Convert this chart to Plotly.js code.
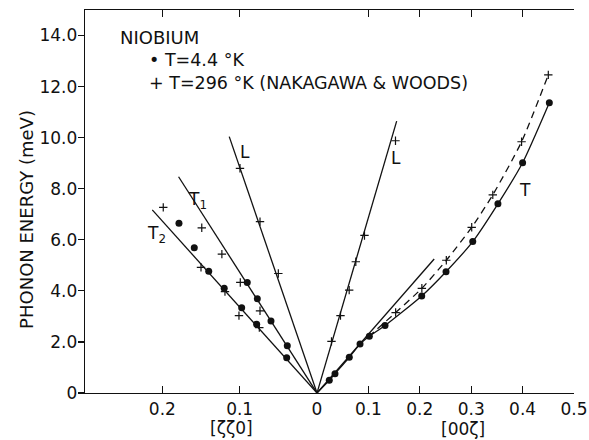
<!DOCTYPE html>
<html>
<head>
<meta charset="utf-8">
<script src="https://cdn.plot.ly/plotly-3.0.1.min.js"></script>
<style>html,body{margin:0;padding:0;background:#fff;}#chart{width:589px;height:440px;}</style>
</head>
<body>
<div id="chart"></div>
<script>
// ---------- DATA ----------
// Left panel: [ζζ0] direction (ζ plotted to the left of 0)
const leftLowT_zeta = [0.1785, 0.1587, 0.140, 0.120, 0.0902, 0.0974, 0.0772, 0.0595, 0.078, 0.0384, 0.0392];
const leftLowT_E    = [6.65, 5.69, 4.77, 4.10, 4.33, 3.34, 3.69, 2.82, 2.69, 1.85, 1.38];
const leftRoomT_zeta = [0.1988, 0.149, 0.123, 0.150, 0.119, 0.0992, 0.0737, 0.1009, 0.0746, 0.0996, 0.0737, 0.050];
const leftRoomT_E    = [7.27, 6.47, 5.44, 4.92, 3.97, 4.33, 3.22, 3.03, 2.56, 8.80, 6.71, 4.68];
const leftL_zeta  = [0, 0.1135];
const leftL_E     = [0, 10.04];
const leftT1_zeta = [0, 0.179];
const leftT1_E    = [0, 8.47];
const leftT2_zeta = [0, 0.213];
const leftT2_E    = [0, 7.17];

// Right panel: [00ζ] direction
const rightLowT_zeta = [0.0239, 0.035, 0.0628, 0.0837, 0.1018, 0.1323, 0.2037, 0.251, 0.303, 0.352, 0.400, 0.452];
const rightLowT_E    = [0.497, 0.756, 1.40, 1.92, 2.22, 2.64, 3.80, 4.75, 5.93, 7.41, 9.02, 11.37];
const rightRoomT_zeta = [0.153, 0.204, 0.2516, 0.301, 0.342, 0.398, 0.450];
const rightRoomT_E    = [3.15, 4.10, 5.20, 6.49, 7.76, 9.84, 12.46];
const rightRoomL_zeta = [0.0282, 0.0457, 0.0626, 0.0755, 0.0924, 0.1527];
const rightRoomL_E    = [2.02, 3.03, 4.03, 5.14, 6.17, 9.88];
const rightL_zeta = [0, 0.155];
const rightL_E    = [0, 10.65];
const rightTangent_zeta = [0, 0.228];
const rightTangent_E    = [0, 5.25];
const rightTLow_curve_zeta = [0, 0.0239, 0.035, 0.0628, 0.0837, 0.1018, 0.1323, 0.2037, 0.251, 0.303, 0.352, 0.400, 0.452];
const rightTLow_curve_E    = [0, 0.497, 0.756, 1.40, 1.92, 2.22, 2.64, 3.80, 4.75, 5.93, 7.41, 9.02, 11.37];
const rightTRoom_curve_zeta = [0.100, 0.153, 0.204, 0.2516, 0.301, 0.342, 0.398, 0.450];
const rightTRoom_curve_E    = [2.20, 3.15, 4.10, 5.20, 6.49, 7.76, 9.84, 12.46];

const yTickVals = [0, 2, 4, 6, 8, 10, 12, 14];
const yTickText = ['0', '2.0', '4.0', '6.0', '8.0', '10.0', '12.0', '14.0'];
const leftTickVals = [0.1, 0.2];
const leftTickText = ['0.1', '0.2'];
const rightTickVals = [0, 0.1, 0.2, 0.3, 0.4, 0.5];
const rightTickText = ['0', '0.1', '0.2', '0.3', '0.4', '0.5'];

// ---------- STYLE ----------
const FONT = 'DejaVu Sans, sans-serif';
const INK = '#111';
const lineStyle = {color: INK, width: 1.3};
const dot = {symbol: 'circle', size: 7, color: INK};
const plus = {symbol: 'cross-thin', size: 6, color: INK, line: {color: INK, width: 1.2}};

function lineTrace(x, y, xa, extra) {
  return Object.assign({x: x, y: y, xaxis: xa, yaxis: 'y', mode: 'lines', line: Object.assign({}, lineStyle), hoverinfo: 'skip', showlegend: false}, extra || {});
}
function markTrace(x, y, xa, marker) {
  return {x: x, y: y, xaxis: xa, yaxis: 'y', mode: 'markers', marker: marker, hoverinfo: 'skip', showlegend: false};
}

const traces = [
  lineTrace(leftL_zeta, leftL_E, 'x'),
  lineTrace(leftT1_zeta, leftT1_E, 'x'),
  lineTrace(leftT2_zeta, leftT2_E, 'x'),
  markTrace(leftLowT_zeta, leftLowT_E, 'x', dot),
  markTrace(leftRoomT_zeta, leftRoomT_E, 'x', plus),

  lineTrace(rightL_zeta, rightL_E, 'x2'),
  lineTrace(rightTangent_zeta, rightTangent_E, 'x2'),
  lineTrace(rightTLow_curve_zeta, rightTLow_curve_E, 'x2', {line: {color: INK, width: 1.3, shape: 'spline', smoothing: 0.6}}),
  lineTrace(rightTRoom_curve_zeta, rightTRoom_curve_E, 'x2', {line: {color: INK, width: 1.3, shape: 'spline', smoothing: 0.6, dash: '7px,5px'}}),
  markTrace(rightLowT_zeta, rightLowT_E, 'x2', dot),
  markTrace(rightRoomT_zeta, rightRoomT_E, 'x2', plus),
  markTrace(rightRoomL_zeta, rightRoomL_E, 'x2', plus)
];

const fL = 232 / 489;
const tickFont = {family: FONT, size: 17, color: INK};
const baseX = {showgrid: false, zeroline: false, showline: true, linecolor: INK, linewidth: 1.3,
  ticks: 'inside', ticklen: 7, tickwidth: 1.2, tickcolor: INK, mirror: 'ticks', tickfont: tickFont, fixedrange: true, anchor: 'y'};
const baseY = {range: [0, 15], showgrid: false, zeroline: false, showline: true, linecolor: INK, linewidth: 1.3,
  tickwidth: 1.2, tickcolor: INK, tickvals: yTickVals, fixedrange: true};

function ann(text, xref, yref, x, y, extra) {
  return Object.assign({text: text, xref: xref, yref: yref, x: x, y: y, xanchor: 'center', yanchor: 'middle',
    showarrow: false, font: {family: FONT, size: 17, color: INK}}, extra || {});
}

const layout = {
  width: 589, height: 440,
  margin: {l: 85, r: 15, t: 10, b: 47},
  paper_bgcolor: '#fff', plot_bgcolor: '#fff',
  showlegend: false,
  font: {family: FONT, color: INK},
  xaxis: Object.assign({}, baseX, {domain: [0, fL], range: [0.3, 0], tickmode: 'array', tickvals: leftTickVals, ticktext: leftTickText}),
  xaxis2: Object.assign({}, baseX, {domain: [fL, 1], range: [0, 0.5], tickmode: 'array', tickvals: rightTickVals, ticktext: rightTickText}),
  yaxis: Object.assign({}, baseY, {anchor: 'x', side: 'left', ticks: 'outside', ticklen: 6, ticklabelstandoff: -3, tickmode: 'array', ticktext: yTickText, tickfont: tickFont}),
  yaxis2: Object.assign({}, baseY, {overlaying: 'y', anchor: 'x2', side: 'right', ticks: 'inside', ticklen: 7, tickmode: 'array', showticklabels: false}),
  yaxis3: Object.assign({}, baseY, {overlaying: 'y', anchor: 'x2', side: 'left', ticks: 'inside', ticklen: 4, tickmode: 'array', tickvals: yTickVals.slice(1), showticklabels: false}),
  yaxis4: Object.assign({}, baseY, {overlaying: 'y', anchor: 'x', side: 'right', ticks: 'inside', ticklen: 4, tickmode: 'array', tickvals: yTickVals.slice(1), showticklabels: false}),
  annotations: [
    ann('PHONON ENERGY (meV)', 'paper', 'paper', -0.1186, 0.452, {textangle: -90, font: {family: FONT, size: 18, color: INK}}),
    ann('[ζζ0]', 'x', 'paper', 0.111, -0.092),
    ann('[00ζ]', 'x2', 'paper', 0.284, -0.094),
    ann('NIOBIUM', 'paper', 'paper', 0.0675, 0.9295, {xanchor: 'left', font: {family: FONT, size: 18, color: INK}}),
    ann('• T=4.4 °K', 'paper', 'paper', 0.126, 0.8695, {xanchor: 'left', font: {family: FONT, size: 17.5, color: INK}}),
    ann('+ T=296 °K (NAKAGAWA & WOODS)', 'paper', 'paper', 0.126, 0.8094, {xanchor: 'left', font: {family: FONT, size: 17.5, color: INK}}),
    ann('L', 'x', 'y', 0.093, 9.44),
    ann('T<sub>1</sub>', 'x', 'y', 0.154, 7.55),
    ann('T<sub>2</sub>', 'x', 'y', 0.207, 6.2),
    ann('L', 'x2', 'y', 0.154, 9.2),
    ann('T', 'x2', 'y', 0.405, 7.95)
  ]
};

Plotly.newPlot('chart', traces, layout, {staticPlot: true, displayModeBar: false});
</script>
</body>
</html>
